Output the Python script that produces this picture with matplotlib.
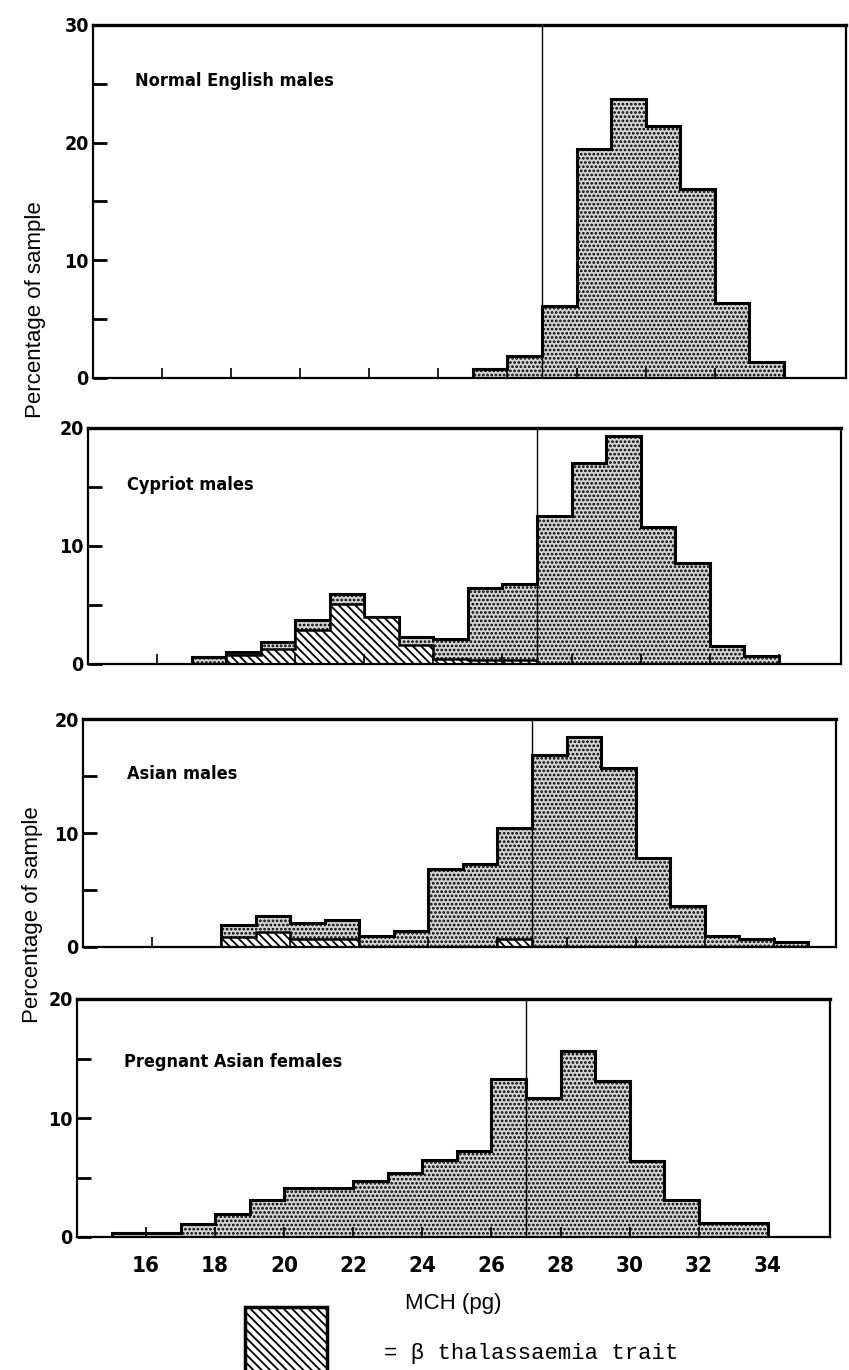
import matplotlib.pyplot as plt
from matplotlib.patches import Rectangle

# MCH bins (1 pg wide) and percentage of sample in each bin
english_edges = list(range(25, 35))
english_pct = [0.8, 1.9, 6.1, 19.5, 23.7, 21.4, 16.1, 6.4, 1.4]

cypriot_edges = list(range(17, 35))
cypriot_pct = [0.6, 1.0, 1.9, 3.7, 5.9, 4.0, 2.3, 2.1, 6.4, 6.8, 12.5, 17.0, 19.3, 11.6, 8.6, 1.5, 0.7]
cypriot_thal = [0.0, 0.8, 1.3, 2.9, 5.1, 4.0, 1.6, 0.4, 0.3, 0.3, 0, 0, 0, 0, 0, 0, 0]

asian_edges = list(range(18, 36))
asian_pct = [1.9, 2.7, 2.1, 2.4, 1.0, 1.4, 6.8, 7.3, 10.4, 16.8, 18.4, 15.7, 7.8, 3.6, 1.0, 0.7, 0.4]
asian_thal = [0.9, 1.3, 0.7, 0.7, 0, 0, 0, 0, 0.7, 0, 0, 0, 0, 0, 0, 0, 0]

pregnant_edges = list(range(15, 35))
pregnant_pct = [0.3, 0.3, 1.1, 1.9, 3.1, 4.1, 4.1, 4.7, 5.4, 6.5, 7.2, 13.3, 11.7, 15.6, 13.1, 6.4, 3.1, 1.2, 1.2]

titles = ['Normal English males', 'Cypriot males', 'Asian males', 'Pregnant Asian females']
ymaxes = [30, 20, 20, 20]
cutoff = 27          # thin vertical line
xticks = list(range(16, 35, 2))

panels = [
    (english_edges, english_pct, None),
    (cypriot_edges, cypriot_pct, cypriot_thal),
    (asian_edges, asian_pct, asian_thal),
    (pregnant_edges, pregnant_pct, None),
]

W, H = 849, 1370
# axes boxes in pixels: left, top, bottom (the scan drifts a little to the left)
boxes = [(93, 25, 378), (88, 428, 664), (83, 719, 947), (77, 999, 1237)]
ax_w = 753
title_pos = [(0.056, 0.84), (0.052, 0.76), (0.058, 0.76), (0.062, 0.735)]

bold = dict(family='DejaVu Sans', fontstretch='condensed', fontweight='bold')
plt.rcParams['hatch.linewidth'] = 1.3

fig = plt.figure(figsize=(W / 100, H / 100), dpi=100)

for i, (edges, pct, thal) in enumerate(panels):
    left, top, bottom = boxes[i]
    ax = fig.add_axes([left / W, 1 - bottom / H, ax_w / W, (bottom - top) / H])

    ax.stairs(pct, edges, fill=True, facecolor='#d4d4d4', edgecolor='black',
              hatch='....', linewidth=2.2)
    if thal is not None:
        ax.stairs(thal, edges, fill=True, facecolor='white', edgecolor='black',
                  hatch='\\\\\\\\', linewidth=1.8)
    ax.axvline(cutoff, color='black', linewidth=1)

    ax.set_xlim(14, 35.8)
    ax.set_ylim(0, ymaxes[i])
    ax.set_yticks(range(0, ymaxes[i] + 1, 10))
    ax.set_yticks(range(5, ymaxes[i], 10), minor=True)
    ax.set_xticks(xticks)
    ax.tick_params(axis='y', which='both', direction='in', length=10, width=2, pad=3)
    ax.tick_params(axis='x', direction='in', length=7, width=1.2, pad=14)
    for lab in ax.get_yticklabels():
        lab.set(fontsize=14, **bold)
    if i < 3:
        ax.tick_params(axis='x', labelbottom=False)
    else:
        ax.set_xticklabels([str(t) for t in xticks])
        for lab in ax.get_xticklabels():
            lab.set(fontsize=16, **bold)
        ax.set_xlabel('MCH (pg)', fontsize=16, family='Liberation Sans', labelpad=12)

    for s in ax.spines.values():
        s.set_linewidth(1.6)
    ax.spines['top'].set_linewidth(2.4)

    ax.text(title_pos[i][0], title_pos[i][1], titles[i], transform=ax.transAxes,
            ha='left', va='center', fontsize=13, **bold)

# shared y labels
fig.text(36 / W, 1 - 310 / H, 'Percentage of sample', rotation=90, ha='center',
         va='center', fontsize=16, family='Liberation Sans')
fig.text(33 / W, 1 - 915 / H, 'Percentage of sample', rotation=90, ha='center',
         va='center', fontsize=16, family='Liberation Sans')

# key for the hatched component
fig.patches.append(Rectangle((245 / W, 1 - 1374 / H), 82 / W, 67 / H,
                             transform=fig.transFigure, facecolor='white',
                             edgecolor='black', hatch='\\\\\\\\', linewidth=2.5))
fig.text(384 / W, 1 - 1354 / H, '= \u03b2 thalassaemia trait', ha='left',
         va='center', fontsize=16, family=['Liberation Mono', 'DejaVu Sans Mono'])

fig.savefig('out.png', dpi=100)
